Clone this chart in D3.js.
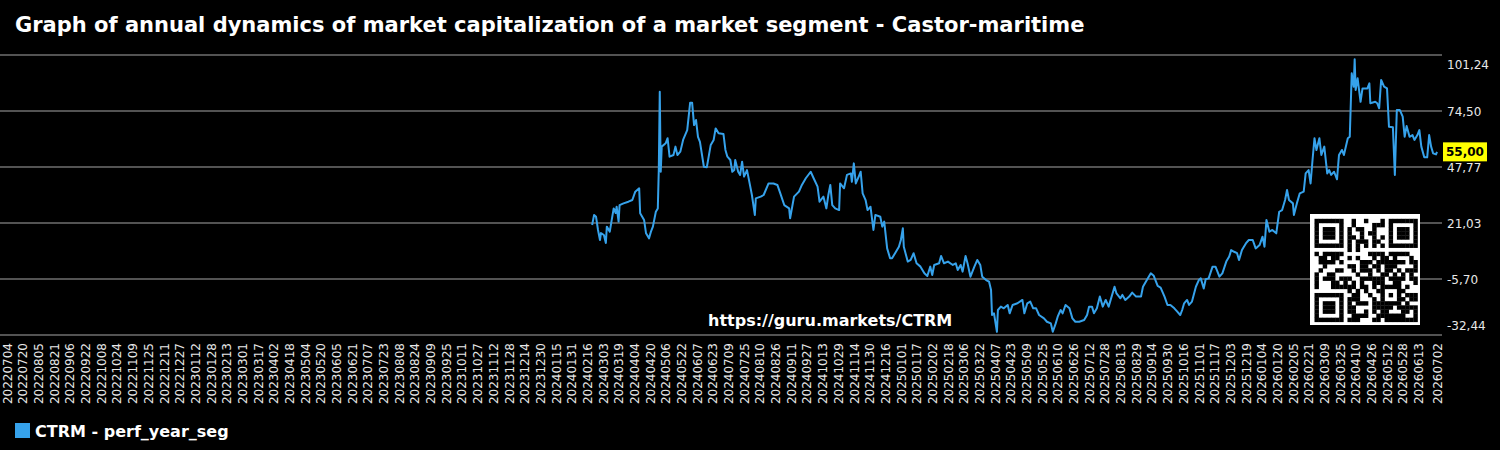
<!DOCTYPE html>
<html><head><meta charset="utf-8">
<script src="https://cdn.jsdelivr.net/npm/d3@7"></script>
<style>
html,body{margin:0;padding:0;background:#000;}
svg{display:block;}
text{font-family:"DejaVu Sans",sans-serif;}
</style></head><body>
<svg id="chart" width="1500" height="450"></svg>
<script>
const chartTitle = "Graph of annual dynamics of market capitalization of a market segment - Castor-maritime";
const seriesName = "CTRM - perf_year_seg";
const watermark = "https://guru.markets/CTRM";
const lastValue = 55.00;

const xTickLabels = ["20220704","20220720","20220805","20220821","20220906","20220922","20221008","20221024","20221109","20221125","20221211","20221227",
"20230112","20230128","20230213","20230301","20230317","20230402","20230418","20230504","20230520","20230605","20230621","20230707","20230723","20230808","20230824","20230909","20230925","20231011","20231027","20231112","20231128","20231214","20231230",
"20240115","20240131","20240216","20240303","20240319","20240404","20240420","20240506","20240522","20240607","20240623","20240709","20240725","20240810","20240826","20240911","20240927","20241013","20241029","20241114","20241130","20241216",
"20250101","20250117","20250202","20250218","20250306","20250322","20250407","20250423","20250509","20250525","20250610","20250626","20250712","20250728","20250813","20250829","20250914","20250930","20251016","20251101","20251117","20251203","20251219",
"20260104","20260120","20260205","20260221","20260309","20260325","20260410","20260426","20260512","20260528","20260613","20260702"];

const yTickValues = [-32.44, -5.70, 21.03, 47.77, 74.50, 101.24];

const dates = [
"20240221","20240223","20240225","20240227","20240229","20240301","20240304","20240306","20240307","20240310","20240312","20240314","20240316","20240317","20240319","20240320","20240324","20240329",
"20240402","20240405","20240409","20240410","20240414","20240416","20240419","20240421","20240423","20240426","20240428","20240429","20240430",
"20240501","20240502","20240506","20240508","20240510","20240514","20240516","20240518","20240521","20240524","20240528","20240531",
"20240602","20240604","20240606","20240608","20240610","20240614","20240617","20240621","20240624","20240626","20240629",
"20240704","20240706","20240708","20240711","20240713","20240715","20240716","20240719","20240721","20240723","20240725","20240728","20240730",
"20240802","20240805","20240806","20240811","20240814","20240819","20240824","20240828","20240831",
"20240904","20240909","20240910","20240914","20240919","20240922","20240926",
"20241001","20241004","20241008","20241010","20241014","20241017","20241019","20241021","20241023","20241026","20241030","20241031",
"20241104","20241107","20241111","20241112","20241114","20241116","20241119","20241121","20241123","20241126","20241128",
"20241201","20241204","20241206","20241211","20241213","20241215","20241218","20241221","20241223","20241227","20241230",
"20250101","20250103","20250104","20250108","20250111","20250114","20250117","20250121","20250125","20250128","20250131",
"20250202","20250204","20250209","20250211","20250214","20250218","20250223","20250226","20250228",
"20250303","20250305","20250308","20250310","20250313","20250317","20250320","20250323","20250325","20250329",
"20250401","20250403","20250404","20250406","20250409","20250410","20250413","20250416","20250420","20250422","20250425","20250430",
"20250505","20250507","20250510","20250513","20250516","20250519","20250522","20250527","20250530",
"20250603","20250605","20250608","20250610","20250613","20250615","20250618","20250622","20250625","20250628",
"20250702","20250707","20250710","20250712","20250715","20250717","20250720","20250723","20250726","20250729",
"20250801","20250807","20250809","20250813","20250815","20250818","20250822","20250825","20250829",
"20250903","20250905","20250910","20250913","20250916","20250920","20250923","20250927","20250930",
"20251003","20251007","20251010","20251013","20251015","20251017","20251020","20251022","20251025","20251029",
"20251101","20251103","20251106","20251108","20251111","20251115","20251118","20251122","20251125","20251129",
"20251202","20251204","20251207","20251210","20251212","20251215","20251219","20251222","20251226","20251229",
"20260102","20260105","20260107","20260109","20260112","20260115","20260119","20260122","20260125","20260128","20260130",
"20260201","20260205","20260206","20260209","20260212","20260216","20260218","20260221","20260223","20260225","20260227",
"20260301","20260304","20260306","20260309","20260312","20260314","20260316","20260319","20260322","20260324","20260327","20260329",
"20260402","20260404","20260406","20260408","20260409","20260410","20260412","20260415","20260417","20260422","20260424","20260425","20260430",
"20260502","20260504","20260506","20260509","20260512","20260514","20260518","20260520","20260522","20260525","20260528","20260530",
"20260601","20260604","20260607","20260609","20260612","20260614","20260616","20260619","20260622","20260624","20260626","20260628",
"20260701","20260702"];

const values = [
20.1,24.9,24.0,17.7,12.9,16.2,15.3,11.5,19.3,16.9,22.5,28.0,25.8,28.8,21.7,29.6,30.4,31.2,
32.0,36.0,37.6,25.7,22.5,16.1,13.7,16.9,19.3,26.4,28.0,46.3,83.7,
45.5,57.5,59.1,61.5,52.7,53.5,57.5,53.5,55.1,61.0,65.4,78.5,
78.5,67.8,70.2,62.2,59.8,47.9,47.6,58.3,60.7,66.2,63.9,
63.5,55.9,52.7,51.1,45.5,46.3,51.1,45.5,44.0,50.3,43.2,46.3,41.6,
34.4,24.9,32.8,33.6,34.4,39.9,39.9,39.2,35.2,
29.6,28.0,23.3,33.6,36.0,39.2,42.4,
45.5,42.4,38.4,31.2,33.6,28.0,34.4,39.2,29.6,28.0,27.2,39.9,
37.6,44.0,44.7,40.7,49.5,39.9,43.2,45.5,35.2,32.0,27.2,
28.8,17.7,24.9,24.0,19.3,21.7,8.9,4.2,4.2,7.3,9.7,
12.9,18.5,9.7,2.6,3.4,6.6,1.8,0.2,-3.0,-4.3,0.2,
-3.8,1.0,1.8,5.3,1.8,2.6,1.0,1.8,-1.4,
1.0,-2.2,5.3,1.8,-4.6,0.2,3.4,1.0,-4.6,-6.2,
-7.0,-11.0,-22.9,-22.1,-30.9,-20.5,-18.9,-19.7,-18.1,-22.1,-18.1,-17.3,
-15.7,-22.1,-17.3,-16.5,-19.7,-19.7,-22.9,-24.5,-26.1,
-26.9,-30.9,-26.9,-23.7,-20.5,-22.1,-18.1,-19.7,-24.5,-26.1,
-26.1,-25.3,-22.9,-18.9,-18.9,-22.1,-19.7,-14.1,-18.9,-15.7,
-18.9,-9.4,-12.6,-14.9,-13.3,-15.7,-14.1,-12.2,-14.1,
-14.1,-9.4,-5.4,-3.0,-4.2,-9.0,-9.8,-14.1,-18.1,
-18.1,-19.7,-21.3,-22.9,-20.5,-17.3,-15.7,-18.1,-16.5,-9.4,
-6.2,-5.4,-10.2,-5.8,-5.4,0.2,0.2,-4.6,-3.0,2.6,
5.0,8.1,7.3,6.6,3.4,8.1,11.3,12.9,12.9,8.9,
10.5,14.5,9.7,22.5,16.9,17.7,16.1,26.4,27.2,32.0,36.8,
32.0,30.4,24.9,30.4,35.2,36.0,44.7,46.3,39.9,51.1,61.5,
55.9,61.5,53.5,57.5,44.7,46.3,44.0,45.5,41.9,53.5,55.9,53.5,
61.5,62.2,92.5,86.1,99.2,84.5,90.1,78.9,85.3,85.3,87.7,78.2,78.9,
78.2,75.8,89.3,86.1,85.3,67.0,66.7,44.0,75.0,75.0,71.8,62.2,
67.3,62.2,63.0,60.7,63.0,65.4,57.5,52.4,52.4,63.0,57.5,54.3,
53.8,55.0];

// ---------- minimal QR encoder (version 2, byte mode) ----------
function qrMatrix(text, level) {
  const size = 25;
  const ecInfo = {L:[34,10,1], M:[28,16,0], Q:[22,22,3], H:[16,28,2]};
  const [dataCw, ecCw, fbits] = ecInfo[level];
  const bytes = Array.from(new TextEncoder().encode(text));
  const bits = [];
  const push = (v, n) => { for (let i = n - 1; i >= 0; i--) bits.push((v >>> i) & 1); };
  push(4, 4); push(bytes.length, 8); bytes.forEach(b => push(b, 8));
  const cap = dataCw * 8;
  push(0, Math.min(4, cap - bits.length));
  push(0, (8 - bits.length % 8) % 8);
  for (let p = 0xEC; bits.length < cap; p ^= (0xEC ^ 0x11)) push(p, 8);
  const data = [];
  for (let i = 0; i < bits.length; i += 8) { let v = 0; for (let j = 0; j < 8; j++) v = (v << 1) | bits[i + j]; data.push(v); }
  const exp = new Array(512), log = new Array(256);
  let xv = 1;
  for (let i = 0; i < 255; i++) { exp[i] = xv; log[xv] = i; xv <<= 1; if (xv & 0x100) xv ^= 0x11D; }
  for (let i = 255; i < 512; i++) exp[i] = exp[i - 255];
  const mul = (a, b) => (a === 0 || b === 0) ? 0 : exp[log[a] + log[b]];
  let gen = [1];
  for (let i = 0; i < ecCw; i++) {
    const ng = new Array(gen.length + 1).fill(0);
    for (let j = 0; j < gen.length; j++) { ng[j] ^= gen[j]; ng[j + 1] ^= mul(gen[j], exp[i]); }
    gen = ng;
  }
  const rem = data.concat(new Array(ecCw).fill(0));
  for (let i = 0; i < data.length; i++) {
    const c = rem[i];
    if (c !== 0) for (let j = 0; j < gen.length; j++) rem[i + j] ^= mul(gen[j], c);
  }
  const all = data.concat(rem.slice(data.length));
  const M = Array.from({length: size}, () => new Array(size).fill(false));
  const F = Array.from({length: size}, () => new Array(size).fill(false));
  const setF = (r, c, d) => { M[r][c] = d; F[r][c] = true; };
  const finder = (r0, c0) => {
    for (let dr = -1; dr <= 7; dr++) for (let dc = -1; dc <= 7; dc++) {
      const r = r0 + dr, c = c0 + dc;
      if (r < 0 || c < 0 || r >= size || c >= size) continue;
      const inside = dr >= 0 && dr <= 6 && dc >= 0 && dc <= 6;
      const dark = inside && (dr === 0 || dr === 6 || dc === 0 || dc === 6 || (dr >= 2 && dr <= 4 && dc >= 2 && dc <= 4));
      setF(r, c, dark);
    }
  };
  finder(0, 0); finder(0, size - 7); finder(size - 7, 0);
  for (let i = 8; i < size - 8; i++) { setF(6, i, i % 2 === 0); setF(i, 6, i % 2 === 0); }
  for (let dr = -2; dr <= 2; dr++) for (let dc = -2; dc <= 2; dc++) setF(18 + dr, 18 + dc, Math.max(Math.abs(dr), Math.abs(dc)) !== 1);
  const drawFormat = (mat, mask, mark) => {
    const d = (fbits << 3) | mask;
    let r = d;
    for (let i = 0; i < 10; i++) r = (r << 1) ^ ((r >>> 9) * 0x537);
    const b = ((d << 10) | r) ^ 0x5412;
    const bit = i => ((b >>> i) & 1) === 1;
    const s = (rr, cc, v) => { mat[rr][cc] = v; if (mark) F[rr][cc] = true; };
    for (let i = 0; i <= 5; i++) s(i, 8, bit(i));
    s(7, 8, bit(6)); s(8, 8, bit(7)); s(8, 7, bit(8));
    for (let i = 9; i < 15; i++) s(8, 14 - i, bit(i));
    for (let i = 0; i < 8; i++) s(8, size - 1 - i, bit(i));
    for (let i = 8; i < 15; i++) s(size - 15 + i, 8, bit(i));
    s(size - 8, 8, true);
  };
  drawFormat(M, 0, true);
  let bi = 0; const totalBits = all.length * 8;
  for (let right = size - 1; right >= 1; right -= 2) {
    if (right === 6) right = 5;
    for (let vert = 0; vert < size; vert++) for (let j = 0; j < 2; j++) {
      const c = right - j;
      const upward = ((right + 1) & 2) === 0;
      const r = upward ? size - 1 - vert : vert;
      if (!F[r][c] && bi < totalBits) { M[r][c] = ((all[bi >>> 3] >>> (7 - (bi & 7))) & 1) === 1; bi++; }
    }
  }
  const maskFn = [
    (r, c) => (r + c) % 2 === 0,
    (r, c) => r % 2 === 0,
    (r, c) => c % 3 === 0,
    (r, c) => (r + c) % 3 === 0,
    (r, c) => (Math.floor(c / 3) + Math.floor(r / 2)) % 2 === 0,
    (r, c) => (r * c) % 2 + (r * c) % 3 === 0,
    (r, c) => ((r * c) % 2 + (r * c) % 3) % 2 === 0,
    (r, c) => ((r + c) % 2 + (r * c) % 3) % 2 === 0];
  function penalty(m) {
    const n = m.length; let res = 0;
    const addHist = (len, h) => { if (h[0] === 0) len += n; h.pop(); h.unshift(len); };
    const countPat = h => { const k = h[1]; const core = k > 0 && h[2] === k && h[3] === k * 3 && h[4] === k && h[5] === k;
      return (core && h[0] >= k * 4 && h[6] >= k ? 1 : 0) + (core && h[6] >= k * 4 && h[0] >= k ? 1 : 0); };
    const termCount = (color, len, h) => { if (color) { addHist(len, h); len = 0; } len += n; addHist(len, h); return countPat(h); };
    for (let pass = 0; pass < 2; pass++) for (let a = 0; a < n; a++) {
      let runColor = false, run = 0; const h = [0, 0, 0, 0, 0, 0, 0];
      for (let b = 0; b < n; b++) {
        const v = pass === 0 ? m[a][b] : m[b][a];
        if (v === runColor) { run++; if (run === 5) res += 3; else if (run > 5) res++; }
        else { addHist(run, h); if (!runColor) res += countPat(h) * 40; runColor = v; run = 1; }
      }
      res += termCount(runColor, run, h) * 40;
    }
    for (let r = 0; r < n - 1; r++) for (let c = 0; c < n - 1; c++) {
      const v = m[r][c]; if (v === m[r][c + 1] && v === m[r + 1][c] && v === m[r + 1][c + 1]) res += 3;
    }
    let dark = 0; m.forEach(row => row.forEach(v => { if (v) dark++; }));
    const total = n * n; const k = Math.ceil(Math.abs(dark * 20 - total * 10) / total) - 1; res += k * 10;
    return res;
  }
  let best = null, bestScore = Infinity;
  for (let mk = 0; mk < 8; mk++) {
    const T = M.map((row, r) => row.map((v, c) => F[r][c] ? v : (v !== maskFn[mk](r, c))));
    drawFormat(T, mk, false);
    const sc = penalty(T);
    if (sc < bestScore) { bestScore = sc; best = T; }
  }
  return best;
}

// ---------- chart ----------
const W = 1500, H = 450;
const svg = d3.select("#chart");
svg.append("rect").attr("width", W).attr("height", H).attr("fill", "#000");

const parse = d3.timeParse("%Y%m%d");
const fmtComma = v => v.toFixed(2).replace(".", ",");
const tickDates = xTickLabels.map(parse);
const x = d3.scaleTime().domain([tickDates[0], tickDates[tickDates.length - 1]]).range([7, 1437]);
const y = d3.scaleLinear().domain([yTickValues[0], yTickValues[yTickValues.length - 1]]).range([335, 55]);

// grid lines
svg.append("g").selectAll("line").data(yTickValues).join("line")
  .attr("x1", 0).attr("x2", 1442)
  .attr("y1", d => y(d)).attr("y2", d => y(d))
  .attr("stroke", "#6f6f6f").attr("stroke-width", 1.6);

// y labels
const nY = yTickValues.length;
svg.append("g").selectAll("text").data(yTickValues).join("text")
  .attr("x", 1447)
  .attr("y", (d, i) => y(d) + (i === nY - 1 ? 10 : (i === 0 ? -9.5 : 0.5)))
  .attr("dy", "0.35em")
  .attr("fill", "#e8e8e8").attr("font-size", 12)
  .text(d => fmtComma(d));

// x axis
const xAxis = d3.axisBottom(x).tickValues(tickDates).tickFormat(d3.timeFormat("%Y%m%d")).tickSize(0);
const gx = svg.append("g").attr("transform", "translate(0,343)").call(xAxis);
gx.select(".domain").remove();
gx.selectAll("text")
  .attr("transform", "rotate(-90)")
  .attr("text-anchor", "end")
  .attr("x", 0).attr("y", 0).attr("dy", "0.35em")
  .attr("fill", "#e8e8e8")
  .style("font-family", "DejaVu Sans").style("font-size", "12px");

// line
const pts = dates.map((d, i) => ({date: parse(d), value: values[i]}));
svg.append("path").datum(pts)
  .attr("fill", "none").attr("stroke", "#36a2eb").attr("stroke-width", 2)
  .attr("stroke-linejoin", "round")
  .attr("d", d3.line().x(d => x(d.date)).y(d => y(d.value)));

// last value tag
const ty = y(lastValue);
svg.append("rect").attr("x", 1443).attr("y", ty - 9.5).attr("width", 44).attr("height", 19).attr("fill", "#ffff00");
svg.append("text").attr("x", 1465).attr("y", ty).attr("dy", "0.36em").attr("text-anchor", "middle")
  .attr("font-size", 12).attr("font-weight", "bold").attr("fill", "#000").text(fmtComma(lastValue));

// watermark
svg.append("text").attr("x", 708).attr("y", 326).attr("font-size", 16).attr("font-weight", "bold")
  .attr("fill", "#fff").text(watermark);

// QR code
const qr = qrMatrix(watermark, "M");
const qg = svg.append("g");
qg.append("rect").attr("x", 1310).attr("y", 214).attr("width", 110).attr("height", 111).attr("fill", "#fff");
const ms = 4.12, qx0 = 1314.5, qy0 = 218.8;
const cells = [];
qr.forEach((row, r) => row.forEach((v, c) => { if (v) cells.push({r, c}); }));
qg.selectAll("rect.m").data(cells).join("rect").attr("class", "m")
  .attr("x", d => qx0 + d.c * ms).attr("y", d => qy0 + d.r * ms)
  .attr("width", ms + 0.3).attr("height", ms + 0.3).attr("fill", "#000");

// title
svg.append("text").attr("x", 15).attr("y", 32).attr("font-size", 21).attr("font-weight", "bold")
  .attr("fill", "#fff").text(chartTitle);

// legend
svg.append("rect").attr("x", 15).attr("y", 423).attr("width", 15).attr("height", 15).attr("fill", "#36a2eb");
svg.append("text").attr("x", 35).attr("y", 436.5).attr("font-size", 16).attr("font-weight", "bold")
  .attr("fill", "#fff").text(seriesName);
</script>
</body></html>
